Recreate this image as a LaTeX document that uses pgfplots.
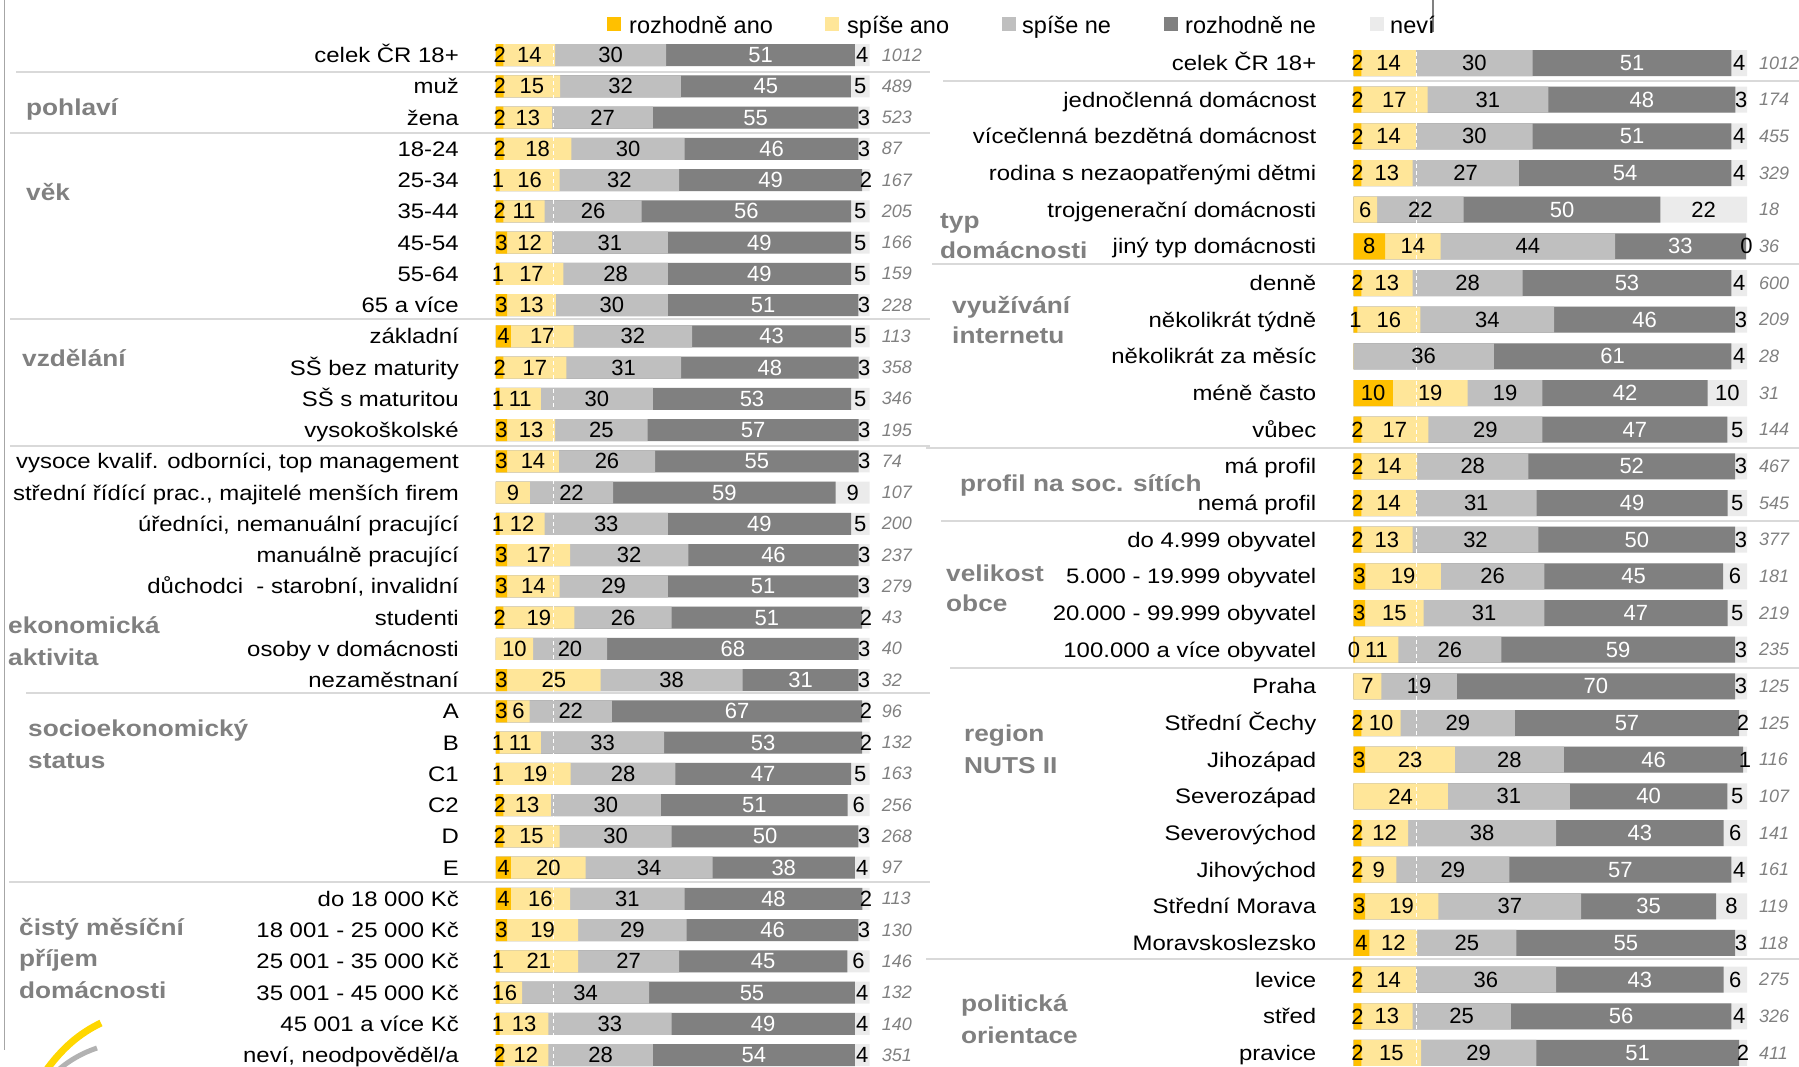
\documentclass[border=0pt]{standalone}
\usepackage{fontspec}
\setmainfont{Liberation Sans}
\newfontfamily\widefont{Liberation Sans}[FakeStretch=1.14]
\usepackage{pgfplots}
\usepackage{pgfplotstable}
\pgfplotsset{compat=1.18}

\definecolor{cra}{HTML}{FFC000}
\definecolor{csa}{HTML}{FFE699}
\definecolor{csn}{HTML}{BFBFBF}
\definecolor{crn}{HTML}{808080}
\definecolor{cnv}{HTML}{EBEBEB}
\definecolor{cgrp}{HTML}{808080}
\definecolor{csep}{HTML}{D9D9D9}
\definecolor{clogo}{HTML}{FFD700}

\newcommand{\rowfont}{\widefont\fontsize{21}{25}\selectfont}
\newcommand{\grpfont}{\widefont\bfseries\fontsize{23}{28}\selectfont}
\newcommand{\numfont}{\fontsize{22}{26}\selectfont}
\newcommand{\nfont}{\itshape\fontsize{18}{22}\selectfont}
\newcommand{\legfont}{\fontsize{23.5}{28}\selectfont}

% cumulative shares, normalised to 100
\newcommand{\tot}{(\thisrow{ra}+\thisrow{sa}+\thisrow{sn}+\thisrow{rn}+\thisrow{nv})}
\newcommand{\cB}{(\thisrow{ra}+\thisrow{sa})}
\newcommand{\cC}{(\thisrow{ra}+\thisrow{sa}+\thisrow{sn})}
\newcommand{\cD}{(\thisrow{ra}+\thisrow{sa}+\thisrow{sn}+\thisrow{rn})}

\pgfplotstableread[col sep=semicolon]{
label;ra;sa;sn;rn;nv;n
celek ČR 18+;2;14;30;51;4;1012
muž;2;15;32;45;5;489
žena;2;13;27;55;3;523
18-24;2;18;30;46;3;87
25-34;1;16;32;49;2;167
35-44;2;11;26;56;5;205
45-54;3;12;31;49;5;166
55-64;1;17;28;49;5;159
65 a více;3;13;30;51;3;228
základní;4;17;32;43;5;113
SŠ bez maturity;2;17;31;48;3;358
SŠ s maturitou;1;11;30;53;5;346
vysokoškolské;3;13;25;57;3;195
vysoce kvalif. odborníci, top management;3;14;26;55;3;74
střední řídící prac., majitelé menších firem;0;9;22;59;9;107
úředníci, nemanuální pracující;1;12;33;49;5;200
manuálně pracující;3;17;32;46;3;237
důchodci~ - starobní, invalidní;3;14;29;51;3;279
studenti;2;19;26;51;2;43
osoby v domácnosti;0;10;20;68;3;40
nezaměstnaní;3;25;38;31;3;32
A;3;6;22;67;2;96
B;1;11;33;53;2;132
C1;1;19;28;47;5;163
C2;2;13;30;51;6;256
D;2;15;30;50;3;268
E;4;20;34;38;4;97
do 18 000 Kč;4;16;31;48;2;113
18 001 - 25 000 Kč;3;19;29;46;3;130
25 001 - 35 000 Kč;1;21;27;45;6;146
35 001 - 45 000 Kč;1;6;34;55;4;132
45 001 a více Kč;1;13;33;49;4;140
neví, neodpověděl/a;2;12;28;54;4;351
}\tabL

\pgfplotstableread[col sep=semicolon]{
label;ra;sa;sn;rn;nv;n
celek ČR 18+;2;14;30;51;4;1012
jednočlenná domácnost;2;17;31;48;3;174
vícečlenná bezdětná domácnost;2;14;30;51;4;455
rodina s nezaopatřenými dětmi;2;13;27;54;4;329
trojgenerační domácnosti;0;6;22;50;22;18
jiný typ domácnosti;8;14;44;33;0.3;36
denně;2;13;28;53;4;600
několikrát týdně;1;16;34;46;3;209
několikrát za měsíc;0;0;36;61;4;28
méně často;10;19;19;42;10;31
vůbec;2;17;29;47;5;144
má profil;2;14;28;52;3;467
nemá profil;2;14;31;49;5;545
do 4.999 obyvatel;2;13;32;50;3;377
5.000 - 19.999 obyvatel;3;19;26;45;6;181
20.000 - 99.999 obyvatel;3;15;31;47;5;219
100.000 a více obyvatel;0.3;11;26;59;3;235
Praha;0;7;19;70;3;125
Střední Čechy;2;10;29;57;2;125
Jihozápad;3;23;28;46;1;116
Severozápad;0;24;31;40;5;107
Severovýchod;2;12;38;43;6;141
Jihovýchod;2;9;29;57;4;161
Střední Morava;3;19;37;35;8;119
Moravskoslezsko;4;12;25;55;3;118
levice;2;14;36;43;6;275
střed;2;13;25;56;4;326
pravice;2;15;29;51;2;411
}\tabR

\pgfplotsset{
  panel/.style={
    scale only axis, clip=false, y dir=reverse,
    xmin=0, xmax=100,
    axis line style={draw=none}, tick style={draw=none},
    xtick=\empty,
    yticklabel style={anchor=base east, inner sep=0pt, xshift=-37pt,
      yshift=-7.5pt, font=\rowfont},
  },
  seg/.style={xbar, bar shift=0pt, draw=none, fill=#1},
  lab/.style={draw=none, mark=none, point meta=explicit symbolic,
    nodes near coords={\ifdim\pgfplotspointmeta pt>0.05pt
      \pgfmathprintnumber[fixed,precision=0,assume math mode=true]{\pgfplotspointmeta}\fi},
    every node near coord/.append style={anchor=center, inner sep=0pt,
      font=\numfont, text=#1}},
  nlab/.style={draw=none, mark=none, point meta=explicit symbolic,
    nodes near coords={\pgfplotspointmeta},
    every node near coord/.append style={anchor=west, inner sep=0pt,
      xshift=12pt, font=\nfont, text=cgrp}},
}

\newcommand{\drawpanel}[2]{%
  \addplot[seg=cnv] table[x expr=100, y expr=\coordindex] {#1};
  \addplot[seg=crn] table[x expr=100*\cD/\tot, y expr=\coordindex] {#1};
  \addplot[seg=csn] table[x expr=100*\cC/\tot, y expr=\coordindex] {#1};
  \addplot[seg=csa] table[x expr=100*\cB/\tot, y expr=\coordindex] {#1};
  \addplot[seg=cra] table[x expr=100*\thisrow{ra}/\tot, y expr=\coordindex] {#1};
  \draw[white, line width=1pt, dash pattern=on 4pt off 3pt]
    (axis cs:#2,-0.5) -- (axis cs:#2,\pgfkeysvalueof{/pgfplots/ymax});
  \addplot[lab=black] table[x expr=50*\thisrow{ra}/\tot, y expr=\coordindex, meta=ra] {#1};
  \addplot[lab=black] table[x expr=100*(\thisrow{ra}+0.5*\thisrow{sa})/\tot, y expr=\coordindex, meta=sa] {#1};
  \addplot[lab=black] table[x expr=100*(\cB+0.5*\thisrow{sn})/\tot, y expr=\coordindex, meta=sn] {#1};
  \addplot[lab=white] table[x expr=100*(\cC+0.5*\thisrow{rn})/\tot, y expr=\coordindex, meta=rn] {#1};
  \addplot[lab=black] table[x expr=100*(\cD+0.5*\thisrow{nv})/\tot, y expr=\coordindex, meta=nv] {#1};
  \addplot[nlab] table[x expr=100, y expr=\coordindex, meta=n] {#1};
}

\begin{document}
\begin{tikzpicture}
\path[use as bounding box] (0pt,0pt) rectangle (1799pt,-1066pt);

% left panel
\begin{axis}[panel, at={(496pt,-39.4pt)}, anchor=north west,
  width=373.7pt, height=1031.25pt, ymin=-0.5, ymax=32.5,
  bar width=22pt, ytick={0,...,32}, yticklabels from table={\tabL}{label}]
  \drawpanel{\tabL}{15.4}
\end{axis}

% right panel
\begin{axis}[panel, at={(1353.5pt,-44.67pt)}, anchor=north west,
  width=393.5pt, height=1026.67pt, ymin=-0.5, ymax=27.5,
  bar width=26pt, ytick={0,...,27}, yticklabels from table={\tabR}{label}]
  \drawpanel{\tabR}{15.9}
\end{axis}

\begin{scope}[x=1pt, y=-1pt]
  % frame lines
  \draw[gray!70, line width=1.5pt] (4.6,0) -- (4.6,1050);
  \draw[gray, line width=1.2pt] (1433,0) -- (1433,32);
  % group separators
  \foreach \y/\x in {72/16, 133/10, 319/10, 446/10, 693/26, 882/9}
    \draw[csep, line width=2pt] (\x,\y) -- (930,\y);
  \foreach \y/\x in {81/943, 264/932, 448/926, 521/941, 668/950, 959/926}
    \draw[csep, line width=2pt] (\x,\y) -- (1799,\y);
  % group labels
  \begin{scope}[every node/.style={anchor=base west, inner sep=0pt, font=\grpfont, text=cgrp}]
    \node at (26,115) {pohlaví};
    \node at (26,200) {věk};
    \node at (22,366.7) {vzdělání};
    \node at (8,633.3) {ekonomická};
    \node at (8,665) {aktivita};
    \node at (28,736.7) {socioekonomický};
    \node at (28,768.3) {status};
    \node at (19,935) {čistý měsíční};
    \node at (19,966.7) {příjem};
    \node at (19,998.3) {domácnosti};
    \node at (940,228.3) {typ};
    \node at (940,258.3) {domácnosti};
    \node at (952,313.3) {využívání};
    \node at (952,343.3) {internetu};
    \node at (960,491.7) {profil na soc. sítích};
    \node at (946,581.7) {velikost};
    \node at (946,611.7) {obce};
    \node at (964,741.7) {region};
    \node at (964,773.3) {NUTS II};
    \node at (961,1011.7) {politická};
    \node at (961,1043.3) {orientace};
  \end{scope}
  % legend
  \begin{scope}[every node/.style={anchor=base west, inner sep=0pt, font=\legfont}]
    \fill[cra] (607,17) rectangle (621,31); \node at (629,33) {rozhodně ano};
    \fill[csa] (825,17) rectangle (839,31); \node at (847,33) {spíše ano};
    \fill[csn] (1002,17) rectangle (1016,31); \node at (1022,33) {spíše ne};
    \fill[crn] (1164,17) rectangle (1178,31); \node at (1185,33) {rozhodně ne};
    \fill[cnv] (1370,17) rectangle (1384,31); \node at (1390,33) {neví};
  \end{scope}
  % logo fragment
  \draw[clogo, line width=7pt] (45,1072) .. controls (62,1048) and (80,1033) .. (101,1023);
  \draw[gray!60, line width=5pt] (56,1072) .. controls (68,1061) and (82,1053) .. (97,1048);
\end{scope}
\end{tikzpicture}
\end{document}
